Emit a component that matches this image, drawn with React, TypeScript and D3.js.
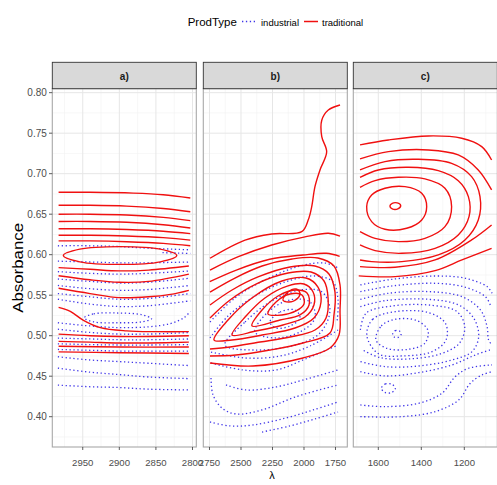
import React from "react";
import * as d3 from "d3";

type Pt = [number, number];
type Contour = { closed?: boolean; pts: Pt[] };

const facetLabels = ["a)", "b)", "c)"];
const legendTitle = "ProdType";
const legendLabels = ["industrial", "traditional"];
const yLabel = "Absorbance";
const xLabel = "λ";

const yDomain: [number, number] = [0.3626, 0.8049];
const yTicks = [0.4, 0.45, 0.5, 0.55, 0.6, 0.65, 0.7, 0.75, 0.8];
const yMinor = [0.375, 0.425, 0.475, 0.525, 0.575, 0.625, 0.675, 0.725, 0.775];

const xDomA: [number, number] = [2991.6, 2794.8];
const xTicksA = [2950, 2900, 2850, 2800];
const xMinorA = [2975, 2925, 2875, 2825];
const xDomB: [number, number] = [2799.2, 1656.3];
const xTicksB = [2750, 2500, 2250, 2000, 1750];
const xMinorB = [2625, 2375, 2125, 1875];
const xDomC: [number, number] = [1716.3, 1046.5];
const xTicksC = [1600, 1400, 1200];
const xMinorC = [1700, 1500, 1300, 1100];

// Panel a) — traditional (red) contours
const aTrad: Contour[] = [
  { pts: [[2983, 0.677], [2940, 0.677], [2881, 0.676], [2840, 0.674], [2803, 0.670]] },
  { pts: [[2983, 0.661], [2940, 0.661], [2890, 0.66], [2840, 0.657], [2803, 0.653]] },
  { pts: [[2983, 0.65], [2940, 0.65], [2890, 0.649], [2840, 0.646], [2803, 0.642]] },
  { pts: [[2983, 0.641], [2940, 0.641], [2890, 0.64], [2840, 0.637], [2803, 0.633]] },
  { pts: [[2983, 0.632], [2940, 0.632], [2890, 0.631], [2840, 0.629], [2803, 0.626]] },
  { pts: [[2983, 0.624], [2940, 0.624], [2890, 0.623], [2840, 0.621], [2803, 0.618]] },
  { pts: [[2983, 0.617], [2940, 0.617], [2890, 0.616], [2840, 0.614], [2803, 0.611]] },
  { closed: true, pts: [[2976.5, 0.599], [2954, 0.6068], [2899, 0.61], [2844, 0.6068], [2821.5, 0.599], [2844, 0.5912], [2899, 0.588], [2954, 0.5912]] },
  { pts: [[2983, 0.584], [2940, 0.582], [2900, 0.58], [2860, 0.581], [2805, 0.586]] },
  { pts: [[2983, 0.574], [2940, 0.569], [2900, 0.566], [2860, 0.567], [2805, 0.576]] },
  { pts: [[2983, 0.5585], [2940, 0.552], [2900, 0.547], [2860, 0.548], [2830, 0.551], [2805, 0.556]] },
  { pts: [[2983, 0.535], [2967, 0.53], [2949, 0.519], [2926, 0.51], [2890, 0.506], [2850, 0.505], [2805, 0.505]] },
  { pts: [[2983, 0.502], [2940, 0.5], [2900, 0.499], [2860, 0.499], [2805, 0.5]] },
  { pts: [[2983, 0.493], [2940, 0.492], [2900, 0.491], [2860, 0.491], [2805, 0.492]] },
  { pts: [[2983, 0.487], [2900, 0.486], [2805, 0.486]] },
  { pts: [[2983, 0.48], [2900, 0.479], [2805, 0.478]] },
];

// Panel a) — industrial (blue dotted) contours
const aInd: Contour[] = [
  { pts: [[2984, 0.611], [2940, 0.611], [2900, 0.61], [2860, 0.608], [2803, 0.606]] },
  { pts: [[2841, 0.6025], [2820, 0.602], [2803, 0.6015]] },
  { pts: [[2984, 0.592], [2940, 0.591], [2900, 0.59], [2860, 0.59], [2803, 0.591]] },
  { pts: [[2984, 0.579], [2940, 0.577], [2900, 0.576], [2860, 0.577], [2803, 0.58]] },
  { pts: [[2984, 0.57], [2940, 0.567], [2900, 0.565], [2860, 0.566], [2803, 0.571]] },
  { pts: [[2984, 0.562], [2940, 0.558], [2900, 0.556], [2860, 0.557], [2803, 0.562]] },
  { pts: [[2984, 0.552], [2940, 0.548], [2900, 0.545], [2860, 0.546], [2803, 0.552]] },
  { pts: [[2984, 0.545], [2940, 0.539], [2900, 0.536], [2860, 0.537], [2803, 0.543]] },
  { closed: true, pts: [[2948, 0.522], [2935, 0.527], [2903, 0.528], [2870, 0.526], [2856, 0.521], [2870, 0.517], [2903, 0.516], [2935, 0.517]] },
  { pts: [[2984, 0.516], [2940, 0.512], [2900, 0.51], [2860, 0.511], [2830, 0.515], [2812, 0.522], [2803, 0.53]] },
  { pts: [[2984, 0.508], [2940, 0.504], [2900, 0.502], [2860, 0.502], [2803, 0.504]] },
  { pts: [[2984, 0.497], [2940, 0.496], [2900, 0.495], [2860, 0.495], [2803, 0.496]] },
  { pts: [[2984, 0.49], [2940, 0.489], [2900, 0.4885], [2860, 0.4885], [2803, 0.489]] },
  { pts: [[2984, 0.483], [2940, 0.482], [2900, 0.481], [2860, 0.481], [2803, 0.481]] },
  { pts: [[2984, 0.474], [2940, 0.47], [2900, 0.468], [2860, 0.466], [2803, 0.463]] },
  { pts: [[2984, 0.46], [2940, 0.455], [2900, 0.452], [2860, 0.449], [2803, 0.447]] },
  { pts: [[2984, 0.439], [2940, 0.437], [2900, 0.436], [2860, 0.434], [2803, 0.433]] },
];

// Panel b) — traditional (red)
const bTrad: Contour[] = [
  { pts: [[2746, 0.5956], [2468, 0.618], [2256, 0.6256], [2018, 0.6284], [1966, 0.643], [1939, 0.659], [1913, 0.684], [1873, 0.7046], [1820, 0.727], [1859, 0.7457], [1859, 0.766], [1807, 0.7786], [1714, 0.7848]] },
  { pts: [[2746, 0.581], [2521, 0.5975], [2256, 0.612], [1992, 0.622], [1807, 0.6264], [1714, 0.623]] },
  { pts: [[2748, 0.5667], [2537, 0.581], [2272, 0.5943], [2008, 0.5996], [1823, 0.6017], [1717, 0.598]] },
  { pts: [[2746, 0.5539], [2548, 0.5712], [2333, 0.586], [2095, 0.5947], [1889, 0.5959], [1762, 0.586], [1714, 0.5626], [1714, 0.5317], [1722, 0.5008], [1794, 0.4848], [2008, 0.4725], [2405, 0.4626], [2746, 0.4663]] },
  { pts: [[2746, 0.5379], [2571, 0.5564], [2365, 0.5725], [2111, 0.5848], [1913, 0.586], [1802, 0.5762], [1754, 0.5539], [1762, 0.5256], [1794, 0.5033], [2008, 0.491], [2270, 0.4823], [2540, 0.4761], [2746, 0.4749]] },
  { pts: [[2746, 0.5219], [2587, 0.5441], [2381, 0.5638], [2127, 0.5774], [1944, 0.5786], [1841, 0.5675], [1809, 0.5466], [1825, 0.5219], [1913, 0.507], [2111, 0.4984], [2349, 0.4922], [2587, 0.486], [2746, 0.4836]] },
  { closed: true, pts: [[2714, 0.4947], [2603, 0.5194], [2413, 0.5466], [2175, 0.5675], [1984, 0.5712], [1889, 0.5601], [1865, 0.5416], [1921, 0.5219], [2071, 0.5095], [2333, 0.5008], [2571, 0.4947]] },
  { closed: true, pts: [[2571, 0.5008], [2460, 0.5243], [2310, 0.5466], [2127, 0.5614], [2000, 0.5638], [1928, 0.5539], [1921, 0.5379], [1992, 0.5231], [2167, 0.5132], [2381, 0.5058]] },
  { closed: true, pts: [[2413, 0.512], [2333, 0.5317], [2206, 0.549], [2071, 0.5564], [1976, 0.5527], [1960, 0.5379], [2032, 0.5256], [2190, 0.5194]] },
  { closed: true, pts: [[2286, 0.5268], [2222, 0.5416], [2111, 0.5515], [2016, 0.5503], [2000, 0.5391], [2063, 0.5305], [2175, 0.5256]] },
  { closed: true, pts: [[2167, 0.5441], [2127, 0.5539], [2063, 0.5577], [2032, 0.5527], [2056, 0.5453], [2119, 0.5416]] },
];

// Panel b) — industrial (blue dotted)
const bInd: Contour[] = [
  { pts: [[2746, 0.3935], [2587, 0.3886], [2405, 0.3898], [2143, 0.3984], [1928, 0.4083], [1730, 0.4182]] },
  { pts: [[2333, 0.3811], [2111, 0.3886], [1913, 0.3972], [1730, 0.4058]] },
  { pts: [[2738, 0.4478], [2722, 0.4268], [2651, 0.4107], [2540, 0.4033], [2333, 0.4083], [2071, 0.4243], [1730, 0.4392]] },
  { pts: [[2619, 0.4392], [2460, 0.433], [2222, 0.4367], [2008, 0.4453], [1730, 0.4577]] },
  { pts: [[2738, 0.4663], [2484, 0.4577], [2222, 0.4577], [2008, 0.47], [1730, 0.4885]] },
  { pts: [[2738, 0.4798], [2468, 0.4725], [2190, 0.4749], [1952, 0.4873], [1730, 0.507]] },
  { closed: true, pts: [[2270, 0.5169], [2190, 0.5292], [2071, 0.5317], [2032, 0.5219], [2111, 0.512], [2222, 0.5095]] },
  { closed: true, pts: [[2389, 0.5046], [2286, 0.5292], [2111, 0.5441], [1952, 0.5416], [1913, 0.5219], [2032, 0.5046], [2230, 0.4972]] },
  { closed: true, pts: [[2627, 0.4885], [2468, 0.5169], [2270, 0.5416], [2032, 0.5564], [1857, 0.5539], [1794, 0.5317], [1873, 0.5033], [2071, 0.4885], [2389, 0.4823]] },
  { pts: [[2746, 0.4972], [2603, 0.5243], [2389, 0.549], [2151, 0.5663], [1913, 0.5737], [1770, 0.5663], [1730, 0.5441], [1738, 0.5169]] },
  { pts: [[2746, 0.5169], [2548, 0.5466], [2310, 0.5688], [2032, 0.586], [1833, 0.5897], [1730, 0.5836]] },
];

// Panel c) — traditional (red)
const cTrad: Contour[] = [
  { pts: [[1685, 0.7355], [1553, 0.7416], [1367, 0.7466], [1212, 0.7437], [1119, 0.7334], [1073, 0.7169]] },
  { pts: [[1685, 0.7182], [1553, 0.7272], [1367, 0.7293], [1228, 0.7231], [1135, 0.7046], [1073, 0.6799]] },
  { pts: [[1685, 0.7046], [1569, 0.7149], [1414, 0.7178], [1259, 0.7128], [1166, 0.6964], [1127, 0.6717], [1135, 0.6429], [1197, 0.6182], [1321, 0.5997], [1491, 0.5914], [1631, 0.5914], [1685, 0.5935]] },
  { pts: [[1685, 0.6955], [1600, 0.7046], [1460, 0.7079], [1321, 0.7038], [1228, 0.6914], [1181, 0.6717], [1178, 0.647], [1228, 0.6244], [1336, 0.6079], [1491, 0.6017], [1615, 0.605], [1685, 0.612]] },
  { pts: [[1685, 0.6832], [1615, 0.6914], [1507, 0.6955], [1383, 0.6935], [1290, 0.682], [1259, 0.6593], [1290, 0.6346], [1383, 0.6202], [1507, 0.6161], [1615, 0.6202], [1685, 0.6285]] },
  { closed: true, pts: [[1654, 0.6593], [1631, 0.6737], [1569, 0.682], [1476, 0.684], [1398, 0.6758], [1375, 0.6593], [1398, 0.6429], [1468, 0.6326], [1569, 0.6314], [1631, 0.6408]] },
  { closed: true, pts: [[1546, 0.6602], [1535, 0.6634], [1512, 0.6639], [1496, 0.661], [1507, 0.6569], [1535, 0.6565]] },
  { pts: [[1685, 0.5853], [1522, 0.5845], [1336, 0.5935], [1166, 0.6182], [1073, 0.6367]] },
  { pts: [[1691, 0.5738], [1522, 0.5729], [1336, 0.5803], [1211, 0.5935], [1073, 0.6079]] },
];

// Panel c) — industrial (blue dotted)
const cInd: Contour[] = [
  { pts: [[1683.5, 0.5626], [1536, 0.5696], [1335, 0.5737], [1195, 0.5709], [1094, 0.5606], [1071, 0.5524]] },
  { pts: [[1683.5, 0.5544], [1536, 0.5614], [1335, 0.5647], [1195, 0.5598], [1102, 0.5482], [1079, 0.5379]] },
  { pts: [[1683.5, 0.5449], [1552, 0.5524], [1366, 0.5544], [1211, 0.5482], [1125, 0.5318], [1094, 0.5112], [1087, 0.4947], [1071, 0.4886]] },
  { pts: [[1683.5, 0.5359], [1567, 0.5433], [1366, 0.5449], [1226, 0.5379], [1156, 0.5215], [1133, 0.4989], [1164, 0.4804], [1257, 0.47], [1412, 0.4626], [1567, 0.4618], [1683.5, 0.468]] },
  { pts: [[1683.5, 0.5071], [1657, 0.5277], [1536, 0.5367], [1350, 0.5375], [1234, 0.5297], [1198, 0.5112], [1223, 0.4906], [1311, 0.4775], [1459, 0.4713], [1591, 0.4729], [1673, 0.4824]] },
  { closed: true, pts: [[1653, 0.4997], [1626, 0.5203], [1521, 0.5297], [1366, 0.5285], [1288, 0.5153], [1285, 0.4947], [1350, 0.4803], [1490, 0.475], [1598, 0.4775]] },
  { closed: true, pts: [[1611, 0.4947], [1586, 0.512], [1521, 0.5203], [1420, 0.5186], [1369, 0.5063], [1384, 0.4906], [1459, 0.4832], [1560, 0.4844]] },
  { closed: true, pts: [[1533, 0.5021], [1521, 0.5063], [1502, 0.5059], [1494, 0.5017], [1507, 0.498], [1526, 0.4984]] },
  { pts: [[1683.5, 0.4556], [1567, 0.4503], [1412, 0.4544], [1257, 0.4639], [1149, 0.4762], [1071, 0.4832]] },
  { pts: [[1683.5, 0.4145], [1567, 0.4124], [1412, 0.4166], [1304, 0.4289], [1242, 0.4495], [1180, 0.4598], [1071, 0.4639]] },
  { pts: [[1683.5, 0.4001], [1490, 0.4001], [1335, 0.4063], [1226, 0.4207], [1172, 0.4413], [1118, 0.4515], [1071, 0.4556]] },
  { closed: true, pts: [[1586, 0.4351], [1567, 0.4404], [1536, 0.44], [1521, 0.4347], [1539, 0.4297], [1570, 0.4301]] },
];

const W = 497;
const H = 485;
const panelLefts = [52.3, 203.3, 353.3];
const panelW = 144;
const panelTop = 88.7;
const panelBottom = 447;
const stripTop = 62.3;

const RED = "#f01010";
const BLUE = "#3f35e8";
const FONT = "'Liberation Sans', Arial, Helvetica, sans-serif";

export default function App() {
  const y = d3.scaleLinear().domain(yDomain).range([panelBottom, panelTop]);
  const panels = [
    { label: facetLabels[0], dom: xDomA, ticks: xTicksA, minor: xMinorA, trad: aTrad, ind: aInd },
    { label: facetLabels[1], dom: xDomB, ticks: xTicksB, minor: xMinorB, trad: bTrad, ind: bInd },
    { label: facetLabels[2], dom: xDomC, ticks: xTicksC, minor: xMinorC, trad: cTrad, ind: cInd },
  ];

  return (
    <svg
      width={W}
      height={H}
      style={{ position: "absolute", left: 0, top: 0, background: "#fff" }}
      fontFamily={FONT}
    >
      <rect x={0} y={0} width={W} height={H} fill="#fff" />
      <defs>
        {panels.map((p, i) => (
          <clipPath id={`clip${i}`} key={i}>
            <rect x={panelLefts[i]} y={panelTop} width={panelW} height={panelBottom - panelTop} />
          </clipPath>
        ))}
      </defs>

      {/* legend */}
      <text x={187.7} y={26} fontSize={11.5} fill="#000">{legendTitle}</text>
      <line x1={242} x2={256} y1={21.5} y2={21.5} stroke={BLUE} strokeWidth={1.3} strokeDasharray="1.3 2.6" />
      <text x={261} y={25.5} fontSize={9.5} fill="#000">{legendLabels[0]}</text>
      <line x1={304} x2={318} y1={21.5} y2={21.5} stroke={RED} strokeWidth={1.5} />
      <text x={322} y={25.5} fontSize={9.5} fill="#000">{legendLabels[1]}</text>

      {panels.map((p, i) => {
        const x0 = panelLefts[i];
        const x = d3.scaleLinear().domain(p.dom).range([x0, x0 + panelW]);
        const open = d3
          .line<Pt>()
          .x((d) => x(d[0]))
          .y((d) => y(d[1]))
          .curve(d3.curveCatmullRom.alpha(0.5));
        const closed = d3
          .line<Pt>()
          .x((d) => x(d[0]))
          .y((d) => y(d[1]))
          .curve(d3.curveCatmullRomClosed.alpha(0.5));
        const path = (c: Contour) => (c.closed ? closed(c.pts) : open(c.pts)) || "";
        return (
          <g key={i}>
            <rect x={x0} y={panelTop} width={panelW} height={panelBottom - panelTop} fill="#fff" />
            {yMinor.map((v) => (
              <line key={`ym${v}`} x1={x0} x2={x0 + panelW} y1={y(v)} y2={y(v)} stroke="#f2f2f2" strokeWidth={0.6} />
            ))}
            {p.minor.map((v) => (
              <line key={`xm${v}`} x1={x(v)} x2={x(v)} y1={panelTop} y2={panelBottom} stroke="#f2f2f2" strokeWidth={0.6} />
            ))}
            {yTicks.map((v) => (
              <line key={`y${v}`} x1={x0} x2={x0 + panelW} y1={y(v)} y2={y(v)} stroke="#e6e6e6" strokeWidth={1} />
            ))}
            {p.ticks.map((v) => (
              <line key={`x${v}`} x1={x(v)} x2={x(v)} y1={panelTop} y2={panelBottom} stroke="#e6e6e6" strokeWidth={1} />
            ))}
            <g clipPath={`url(#clip${i})`}>
              {p.ind.map((c, k) => (
                <path key={`i${k}`} d={path(c)} fill="none" stroke={BLUE} strokeWidth={1.3} strokeDasharray="1.3 2.6" />
              ))}
              {p.trad.map((c, k) => (
                <path key={`t${k}`} d={path(c)} fill="none" stroke={RED} strokeWidth={1.4} />
              ))}
            </g>
            <rect x={x0} y={panelTop} width={panelW} height={panelBottom - panelTop} fill="none" stroke="#a8a8a8" strokeWidth={1.1} />
            <rect x={x0} y={stripTop} width={panelW} height={panelTop - stripTop} fill="#d9d9d9" stroke="#333" strokeWidth={0.9} />
            <text x={x0 + panelW / 2} y={79.5} textAnchor="middle" fontSize={10} fontWeight="bold" fill="#1a1a1a">
              {p.label}
            </text>
            {p.ticks.map((v) => (
              <g key={`xt${v}`}>
                <line x1={x(v)} x2={x(v)} y1={panelBottom} y2={panelBottom + 3} stroke="#333" strokeWidth={0.8} />
                <text x={x(v)} y={466} textAnchor="middle" fontSize={9.6} fill="#4d4d4d">
                  {v}
                </text>
              </g>
            ))}
          </g>
        );
      })}

      {yTicks.map((v) => (
        <g key={`yt${v}`}>
          <line x1={49} x2={52.3} y1={y(v)} y2={y(v)} stroke="#333" strokeWidth={0.8} />
          <text x={46.8} y={y(v)} dy="0.35em" textAnchor="end" fontSize={10} fill="#4d4d4d">
            {v.toFixed(2)}
          </text>
        </g>
      ))}
      <text
        transform={`translate(23, ${(panelTop + panelBottom) / 2}) rotate(-90)`}
        textAnchor="middle"
        fontSize={14}
        textLength={90}
        lengthAdjust="spacingAndGlyphs"
        fill="#000"
      >
        {yLabel}
      </text>
      <text x={272} y={479} textAnchor="middle" fontSize={11} fill="#000">
        {xLabel}
      </text>
    </svg>
  );
}
